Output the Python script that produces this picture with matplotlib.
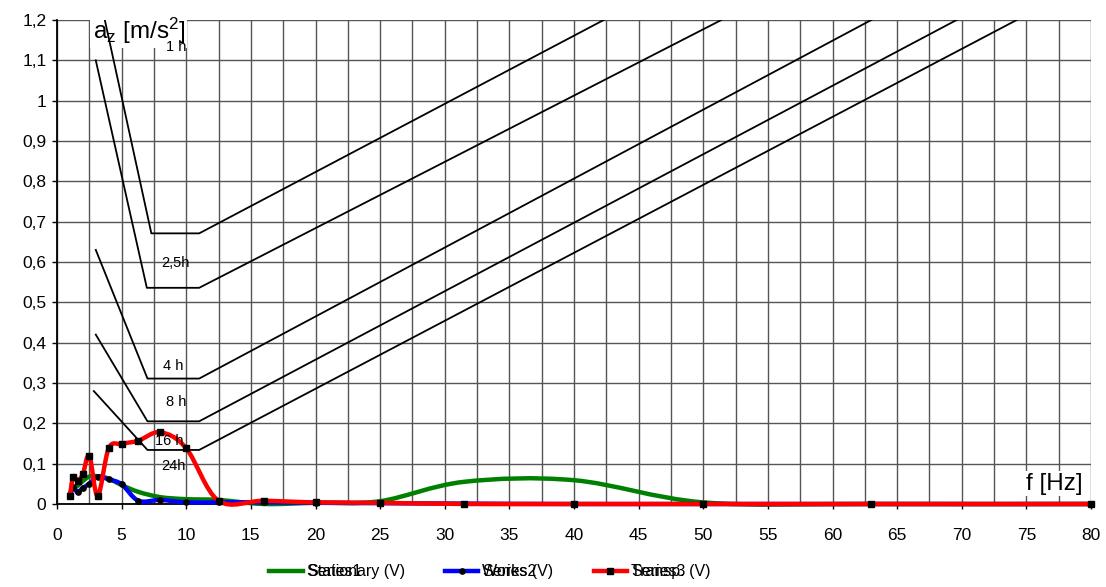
import numpy as np
import matplotlib
matplotlib.use("Agg")
import matplotlib.pyplot as plt
from matplotlib.path import Path
from matplotlib.patches import PathPatch
from matplotlib.lines import Line2D

# third-octave band centre frequencies [Hz]
freq = [1, 1.25, 1.6, 2, 2.5, 3.15, 4, 5, 6.3, 8, 10, 12.5, 16, 20, 25,
        31.5, 40, 50, 63, 80]
stationary = [0.025, 0.038, 0.045, 0.057, 0.068, 0.069, 0.063, 0.047, 0.030,
              0.017, 0.012, 0.010, 0.000, 0.003, 0.007, 0.055, 0.059, 0.004,
              0.000, 0.000]
works = [0.024, 0.041, 0.029, 0.040, 0.050, 0.068, 0.061, 0.049, 0.008, 0.010,
         0.004, 0.004, 0.004, 0.003, 0.002, 0.001, 0.000, 0.000, 0.000, 0.000]
transp = [0.020, 0.068, 0.058, 0.074, 0.120, 0.020, 0.138, 0.149, 0.157,
          0.178, 0.138, 0.008, 0.008, 0.004, 0.003, 0.000, 0.000, 0.000,
          0.000, 0.000]

# exposure limit curves (corner points)
limit_x = [[3.7, 7.3, 11, 42.3],
           [3.0, 6.95, 11, 51.4],
           [3.0, 7.0, 11, 63.0],
           [3.0, 7.0, 11, 69.6],
           [2.85, 7.0, 11, 74.25]]
limit_y = [[1.2, 0.671, 0.671, 1.2],
           [1.1, 0.536, 0.536, 1.2],
           [0.63, 0.311, 0.311, 1.2],
           [0.42, 0.205, 0.205, 1.2],
           [0.28, 0.134, 0.134, 1.2]]
curve_labels = ["1 h", "2,5h", "4 h", "8 h", "16 h", "24h"]
curve_label_x = [9.26, 9.13, 9.0, 9.26, 8.7, 9.0]
curve_label_y = [1.134, 0.597, 0.342, 0.254, 0.155, 0.093]

xticks = list(range(0, 81, 5))
yticks = [0, 0.1, 0.2, 0.3, 0.4, 0.5, 0.6, 0.7, 0.8, 0.9, 1.0, 1.1, 1.2]
ytick_labels = ["0", "0,1", "0,2", "0,3", "0,4", "0,5", "0,6", "0,7", "0,8",
                "0,9", "1", "1,1", "1,2"]

plt.rcParams["font.family"] = ["Liberation Sans", "DejaVu Sans"]
plt.rcParams["mathtext.fontset"] = "custom"
plt.rcParams["mathtext.rm"] = "Liberation Sans"
plt.rcParams["mathtext.it"] = "Liberation Sans"


def smooth_path(x, y):
    # excel-like smoothed line: cubic bezier through the points
    p = np.column_stack([x, y])
    n = len(p)
    verts = [p[0]]
    codes = [Path.MOVETO]
    for i in range(n - 1):
        p0 = p[max(i - 1, 0)]
        p1 = p[i]
        p2 = p[i + 1]
        p3 = p[min(i + 2, n - 1)]
        verts += [p1 + (p2 - p0) / 6, p2 - (p3 - p1) / 6, p2]
        codes += [Path.CURVE4] * 3
    return Path(verts, codes)


fig = plt.figure(figsize=(11.06, 5.87), dpi=100)
ax = fig.add_axes([57 / 1106, 83 / 587, 1034 / 1106, 484 / 587])

ax.set_xlim(0, 80)
ax.set_ylim(0, 1.2)
ax.set_xticks(xticks)
ax.set_xticks(np.arange(2.5, 80, 5), minor=True)
ax.set_yticks(yticks)
ax.set_yticklabels(ytick_labels)
ax.tick_params(axis="both", which="major", labelsize=12.5, width=1)
ax.tick_params(axis="y", which="major", length=3.6, pad=4)
ax.tick_params(axis="x", which="major", length=3.5, pad=14)
ax.tick_params(axis="x", which="minor", length=0)
ax.set_axisbelow(True)
ax.grid(True, which="both", color="#555555", linewidth=1)
for s in ["top", "right"]:
    ax.spines[s].set_visible(False)
for s in ["left", "bottom"]:
    ax.spines[s].set_color("black")
    ax.spines[s].set_linewidth(1.3)

for xs, ys in zip(limit_x, limit_y):
    ax.plot(xs, ys, color="black", linewidth=1.3, zorder=2)

for t, x, y in zip(curve_labels, curve_label_x, curve_label_y):
    ax.text(x, y, t, fontsize=10.5, ha="center", va="center", zorder=4)

ax.text(2.75, 1.153, r"a$_\mathrm{z}$ [m/s$^\mathrm{2}$]", fontsize=17.5,
        ha="left", va="baseline", zorder=1.5,
        bbox=dict(facecolor="white", edgecolor="none", pad=1.5))
ax.text(79.36, 0.05, "f [Hz]", fontsize=17.5, ha="right", va="center",
        zorder=1.5, bbox=dict(facecolor="white", edgecolor="none", pad=1))

series = [(stationary, "green", None, "Stationary (V)", "Series1"),
          (works, "blue", "o", "Works (V)", "Series2"),
          (transp, "red", "s", "Transp. (V)", "Series3")]
handles = []
for vals, col, mk, name, _ in series:
    patch = PathPatch(smooth_path(freq, vals), fill=False, edgecolor=col,
                      linewidth=3.2, capstyle="round", joinstyle="round",
                      clip_on=False, zorder=3)
    ax.add_patch(patch)
    if mk:
        ax.plot(freq, vals, linestyle="none", marker=mk, color="black",
                markersize=3.8 if mk == "o" else 4.3, clip_on=False, zorder=3)
    handles.append(Line2D([], [], color=col, linewidth=3.2, marker=mk,
                          markersize=3.8, markerfacecolor="black",
                          markeredgecolor="black"))

leg = fig.legend(handles, [s[3] for s in series], loc="center",
                 bbox_to_anchor=(0.443, 0.0256), ncol=3, frameon=False,
                 fontsize=11.5, handlelength=2.1, handletextpad=0.25,
                 columnspacing=2.5)

# the legend in the original shows the default series names printed over
fig.canvas.draw()
inv = fig.transFigure.inverted()
for txt, (_, _, _, _, old) in zip(leg.get_texts(), series):
    bb = txt.get_window_extent()
    x0, y0 = inv.transform((bb.x0, (bb.y0 + bb.y1) / 2))
    fig.text(x0, y0, old, fontsize=11.5, ha="left", va="center")

fig.savefig("out.png", dpi=100)
